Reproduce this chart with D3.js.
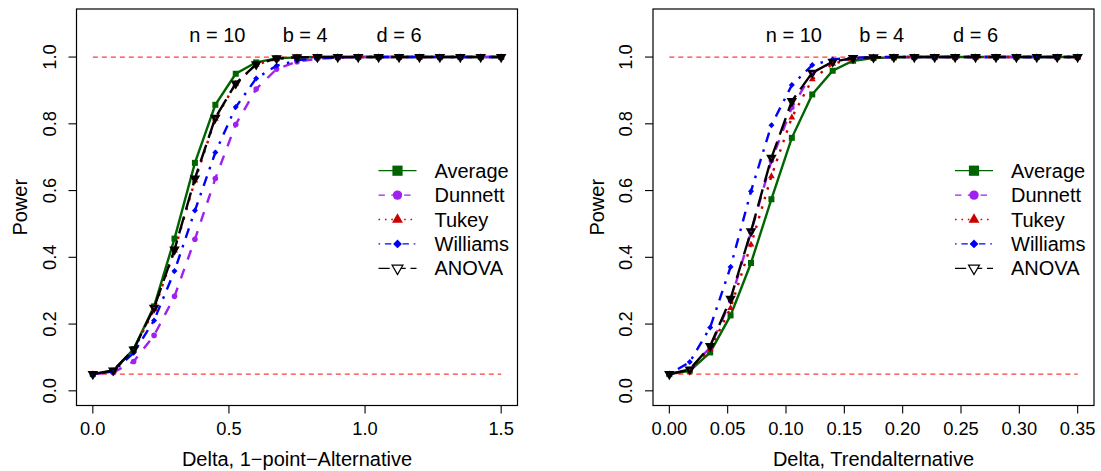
<!DOCTYPE html>
<html>
<head>
<meta charset="utf-8">
<script src="https://cdn.jsdelivr.net/npm/d3@7"></script>
<style>
body { margin: 0; background: #fff; }
svg { display: block; }
text { font-family: "Liberation Sans", Arial, Helvetica, sans-serif; fill: #000; }
</style>
</head>
<body>
<div id="chart"></div>
<script>
// delta grid for both alternatives (21 steps)
var deltaPoint = [0, 0.075, 0.15, 0.225, 0.3, 0.375, 0.45, 0.525, 0.6, 0.675, 0.75,
	0.825, 0.9, 0.975, 1.05, 1.125, 1.2, 1.275, 1.35, 1.425, 1.5];
var deltaTrend = [0, 0.0175, 0.035, 0.0525, 0.07, 0.0875, 0.105, 0.1225, 0.14, 0.1575, 0.175,
	0.1925, 0.21, 0.2275, 0.245, 0.2625, 0.28, 0.2975, 0.315, 0.3325, 0.35];

var methods = ["Average", "Dunnett", "Tukey", "Williams", "ANOVA"];

// power, 1-point alternative
var pointAverage  = [0.05, 0.06, 0.125, 0.253, 0.456, 0.683, 0.857, 0.95, 0.984, 0.996, 0.999, 1, 1, 1, 1, 1, 1, 1, 1, 1, 1];
var pointDunnett  = [0.05, 0.055, 0.088, 0.166, 0.283, 0.454, 0.636, 0.798, 0.904, 0.964, 0.986, 0.995, 0.998, 1, 1, 1, 1, 1, 1, 1, 1];
var pointTukey    = [0.05, 0.059, 0.121, 0.244, 0.42, 0.63, 0.815, 0.92, 0.977, 0.995, 0.999, 1, 1, 1, 1, 1, 1, 1, 1, 1, 1];
var pointWilliams = [0.05, 0.058, 0.114, 0.211, 0.359, 0.54, 0.714, 0.85, 0.936, 0.974, 0.99, 0.997, 0.999, 1, 1, 1, 1, 1, 1, 1, 1];
var pointAnova    = [0.05, 0.061, 0.124, 0.249, 0.423, 0.636, 0.818, 0.921, 0.978, 0.996, 0.999, 1, 1, 1, 1, 1, 1, 1, 1, 1, 1];

// power, trend alternative
var trendAverage  = [0.05, 0.06, 0.115, 0.226, 0.383, 0.574, 0.758, 0.888, 0.959, 0.989, 0.997, 0.999, 1, 1, 1, 1, 1, 1, 1, 1, 1];
var trendDunnett  = [0.05, 0.063, 0.13, 0.27, 0.475, 0.69, 0.849, 0.952, 0.985, 0.996, 0.999, 1, 1, 1, 1, 1, 1, 1, 1, 1, 1];
var trendTukey    = [0.05, 0.062, 0.125, 0.248, 0.438, 0.643, 0.819, 0.933, 0.98, 0.995, 0.999, 1, 1, 1, 1, 1, 1, 1, 1, 1, 1];
var trendWilliams = [0.05, 0.086, 0.19, 0.371, 0.598, 0.796, 0.916, 0.976, 0.993, 0.998, 1, 1, 1, 1, 1, 1, 1, 1, 1, 1, 1];
var trendAnova    = [0.05, 0.064, 0.134, 0.276, 0.478, 0.698, 0.868, 0.953, 0.986, 0.997, 0.999, 1, 1, 1, 1, 1, 1, 1, 1, 1, 1];

var xTicksPoint = [0, 0.5, 1.0, 1.5];
var xTicksTrend = [0, 0.05, 0.1, 0.15, 0.2, 0.25, 0.3, 0.35];
var yTicks = [0, 0.2, 0.4, 0.6, 0.8, 1.0];
var infoLabels = ["n = 10", "b = 4", "d = 6"];
var alphaLevel = 0.05;

// ------------------------
var width = 1101,
	height = 471,
	boxTop = 9,
	boxBottom = 405.5,
	boxWidth = 441;

// R style line types, in units of line width
var lty = {
	solid: [],
	dashed: [4, 4],
	dotted: [1, 3],
	dotdash: [1, 3, 4, 3],
	longdash: [7, 3]
};

// custom marker shapes, size = half width
var shapes = {
	square: { draw: function(c, r) { c.rect(-r, -r, 2 * r, 2 * r); } },
	circle: { draw: function(c, r) { c.moveTo(r, 0); c.arc(0, 0, r, 0, 2 * Math.PI); } },
	triUp: { draw: function(c, r) {
		var h = r * 0.866;
		c.moveTo(0, -r); c.lineTo(h, r / 2); c.lineTo(-h, r / 2); c.closePath();
	} },
	triDown: { draw: function(c, r) {
		var h = r * 0.866;
		c.moveTo(0, r); c.lineTo(h, -r / 2); c.lineTo(-h, -r / 2); c.closePath();
	} },
	diamond: { draw: function(c, r) {
		c.moveTo(0, -r); c.lineTo(r, 0); c.lineTo(0, r); c.lineTo(-r, 0); c.closePath();
	} }
};

var styles = {
	Average:  { color: "#006400", lty: lty.solid,    shape: "square",  r: 3,   legR: 5.1, fill: true },
	Dunnett:  { color: "#a020f0", lty: lty.dashed,   shape: "circle",  r: 2.8, legR: 4.7, fill: true },
	Tukey:    { color: "#cd0000", lty: lty.dotted,   shape: "triUp",   r: 3.9, legR: 6.3, fill: true },
	Williams: { color: "#0000ff", lty: lty.dotdash,  shape: "diamond", r: 3,   legR: 4.4, fill: true },
	ANOVA:    { color: "#000000", lty: lty.longdash, shape: "triDown", r: 3.7, legR: 6.2, fill: false }
};

var svg = d3.select("#chart").append("svg")
	.attr("width", width)
	.attr("height", height);

var y = d3.scaleLinear()
	.domain([-0.044, 1.144])
	.range([boxBottom, boxTop]);

function dashArray(pattern, unit) {
	return pattern.length ? pattern.map(function(d) { return d * unit; }).join(",") : null;
}

function drawPanel(left, delta, series, xDomain, xTicks, fmt, xTitle) {
	var x = d3.scaleLinear()
		.domain(xDomain)
		.range([left, left + boxWidth]);
	var right = left + boxWidth;
	var g = svg.append("g");

	// alpha level and full power lines
	[alphaLevel, 1].forEach(function(v) {
		g.append("line")
			.attr("x1", x(delta[0]))
			.attr("x2", x(delta[delta.length - 1]))
			.attr("y1", y(v))
			.attr("y2", y(v))
			.attr("stroke", "#ff3b3b")
			.attr("stroke-width", 1.2)
			.attr("stroke-dasharray", "5,4");
	});

	var line = d3.line()
		.x(function(d, i) { return x(delta[i]); })
		.y(function(d) { return y(d); });

	methods.forEach(function(m, k) {
		var s = styles[m];
		g.append("path")
			.datum(series[k])
			.attr("d", line)
			.attr("fill", "none")
			.attr("stroke", s.color)
			.attr("stroke-width", 2.4)
			.attr("stroke-dasharray", dashArray(s.lty, 2.5));

		var sym = d3.symbol().type(shapes[s.shape]).size(s.r);
		g.selectAll(null)
			.data(series[k])
			.enter().append("path")
			.attr("transform", function(d, i) { return "translate(" + x(delta[i]) + "," + y(d) + ")"; })
			.attr("d", sym)
			.attr("fill", s.fill ? s.color : "none")
			.attr("stroke", s.fill ? "none" : s.color)
			.attr("stroke-width", 2.4);
	});

	// box
	g.append("rect")
		.attr("x", left)
		.attr("y", boxTop)
		.attr("width", boxWidth)
		.attr("height", boxBottom - boxTop)
		.attr("fill", "none")
		.attr("stroke", "#000")
		.attr("stroke-width", 1.2);

	// x axis
	var xa = g.selectAll(".xt")
		.data(xTicks)
		.enter().append("g");
	xa.append("line")
		.attr("x1", function(d) { return x(d); })
		.attr("x2", function(d) { return x(d); })
		.attr("y1", boxBottom)
		.attr("y2", boxBottom + 8)
		.attr("stroke", "#000")
		.attr("stroke-width", 1.1);
	xa.append("text")
		.attr("x", function(d) { return x(d); })
		.attr("y", 434.5)
		.attr("text-anchor", "middle")
		.style("font-size", "18.3px")
		.text(fmt);

	// y axis
	var ya = g.selectAll(".yt")
		.data(yTicks)
		.enter().append("g");
	ya.append("line")
		.attr("x1", left)
		.attr("x2", left - 8)
		.attr("y1", function(d) { return y(d); })
		.attr("y2", function(d) { return y(d); })
		.attr("stroke", "#000")
		.attr("stroke-width", 1.1);
	ya.append("text")
		.attr("transform", function(d) { return "translate(" + (left - 21) + "," + y(d) + ") rotate(-90)"; })
		.attr("text-anchor", "middle")
		.style("font-size", "18.3px")
		.text(d3.format(".1f"));

	g.append("text")
		.attr("x", (left + right) / 2)
		.attr("y", 466)
		.attr("text-anchor", "middle")
		.style("font-size", "20px")
		.text(xTitle);
	g.append("text")
		.attr("transform", "translate(" + (left - 49.5) + "," + ((boxTop + boxBottom) / 2) + ") rotate(-90)")
		.attr("text-anchor", "middle")
		.style("font-size", "20px")
		.text("Power");

	// n, b, d
	var dMax = delta[delta.length - 1];
	g.selectAll(".info")
		.data(infoLabels)
		.enter().append("text")
		.attr("x", function(d, i) { return x(dMax * [0.305, 0.52, 0.75][i]); })
		.attr("y", 42)
		.attr("text-anchor", "middle")
		.style("font-size", "20px")
		.text(function(d) { return d; });

	// legend
	var leg = g.selectAll(".leg")
		.data(methods)
		.enter().append("g")
		.attr("transform", function(d, i) { return "translate(0," + (170.7 + i * 24.4) + ")"; });
	leg.append("line")
		.attr("x1", right - 139)
		.attr("x2", right - 101)
		.attr("stroke", function(d) { return styles[d].color; })
		.attr("stroke-width", 1.3)
		.attr("stroke-dasharray", function(d) { return dashArray(styles[d].lty, 1.6); });
	leg.append("path")
		.attr("transform", "translate(" + (right - 120) + ",0)")
		.attr("d", function(d) { return d3.symbol().type(shapes[styles[d].shape]).size(styles[d].legR)(); })
		.attr("fill", function(d) { return styles[d].fill ? styles[d].color : "#fff"; })
		.attr("stroke", function(d) { return styles[d].fill ? "none" : styles[d].color; })
		.attr("stroke-width", 1.3);
	leg.append("text")
		.attr("x", right - 83)
		.attr("y", 7)
		.style("font-size", "20px")
		.text(function(d) { return d; });
}

drawPanel(76.5, deltaPoint,
	[pointAverage, pointDunnett, pointTukey, pointWilliams, pointAnova],
	[-0.06, 1.56], xTicksPoint, d3.format(".1f"), "Delta, 1\u2212point\u2212Alternative");

drawPanel(653, deltaTrend,
	[trendAverage, trendDunnett, trendTukey, trendWilliams, trendAnova],
	[-0.014, 0.364], xTicksTrend, d3.format(".2f"), "Delta, Trendalternative");
</script>
</body>
</html>
